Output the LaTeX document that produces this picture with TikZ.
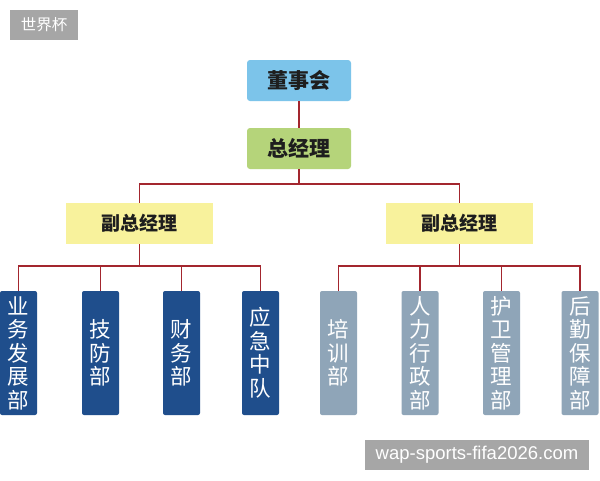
\documentclass[tikz,border=0pt]{standalone}
\usepackage{fontspec}
\newfontfamily\cjk{Noto Sans CJK SC}
\setsansfont{Liberation Sans}
\definecolor{topblue}{HTML}{7CC4EA}
\definecolor{gmgreen}{HTML}{B5D47A}
\definecolor{vpyellow}{HTML}{F8F29C}
\definecolor{deptblue}{HTML}{1F4E8C}
\definecolor{deptgray}{HTML}{8FA5B8}
\definecolor{linkred}{HTML}{A3262E}
\definecolor{wmgray}{HTML}{A6A6A6}
\definecolor{txtdark}{HTML}{1E1E1E}
\begin{document}
\begin{tikzpicture}[x=1pt,y=-1pt,
  topbox/.style={rounded corners=3pt, inner sep=0pt, minimum width=104pt, minimum height=41pt,
    font=\cjk\bfseries\fontsize{21}{24}\selectfont, text=txtdark},
  vpbox/.style={fill=vpyellow, inner sep=0pt, minimum width=147pt, minimum height=41pt,
    font=\cjk\bfseries\fontsize{19}{22}\selectfont, text=txtdark},
  dept/.style={rounded corners=2pt, inner sep=0pt, minimum width=37pt, minimum height=124pt,
    text width=37pt, align=center, font=\cjk\fontsize{21.5}{23.5}\selectfont, text=white},
  dl/.style={dept, fill=deptblue},
  dr/.style={dept, fill=deptgray},
  link/.style={draw=linkred, line width=1.2pt},
  wm/.style={fill=wmgray, text=white, inner sep=0pt}
]
\useasboundingbox (0,0) rectangle (600,480);
\fill[white] (0,0) rectangle (600,480);

\node[wm, minimum width=68pt, minimum height=30pt, font=\cjk\fontsize{15.5}{18}\selectfont] (wmtop) at (44,25) {世界杯};

\node[topbox, fill=topblue] (root) at (299,80.5) {董事会};
\node[topbox, fill=gmgreen] (gm) at (299,148.5) {总经理};
\node[vpbox] (vl) at (139.5,223.5) {副总经理};
\node[vpbox] (vr) at (459.5,223.5) {副总经理};

\coordinate (bus1) at (0,184);
\coordinate (bus2) at (0,266);

\node[dl] (d1) at (18.5,353) {业\\务\\发\\展\\部};
\node[dl] (d2) at (100.5,353) {技\\防\\部};
\node[dl] (d3) at (181.5,353) {财\\务\\部};
\node[dl] (d4) at (260.5,353) {应\\急\\中\\队};
\node[dr] (d5) at (338.5,353) {培\\训\\部};
\node[dr] (d6) at (420,353) {人\\力\\行\\政\\部};
\node[dr] (d7) at (501.5,353) {护\\卫\\管\\理\\部};
\node[dr] (d8) at (580,353) {后\\勤\\保\\障\\部};

\draw[link] (root) -- (gm);
\draw[link] (gm.south) -- (gm.south |- bus1);
\draw[link] (vl.north) -- (vl.north |- bus1) -- (vr.north |- bus1) -- (vr.north);

\draw[link] (vl.south) -- (vl.south |- bus2);
\draw[link] (d1.north) -- (d1.north |- bus2) -- (d4.north |- bus2) -- (d4.north);
\draw[link] (d2.north) -- (d2.north |- bus2);
\draw[link] (d3.north) -- (d3.north |- bus2);

\draw[link] (vr.south) -- (vr.south |- bus2);
\draw[link] (d5.north) -- (d5.north |- bus2) -- (d8.north |- bus2) -- (d8.north);
\draw[link] (d6.north) -- (d6.north |- bus2);
\draw[link] (d7.north) -- (d7.north |- bus2);

\node[wm, minimum width=224pt, minimum height=30pt, font=\sffamily\fontsize{18.5}{21}\selectfont] (wmbot) at (477,455) {wap-sports-fifa2026.com};
\end{tikzpicture}
\end{document}
